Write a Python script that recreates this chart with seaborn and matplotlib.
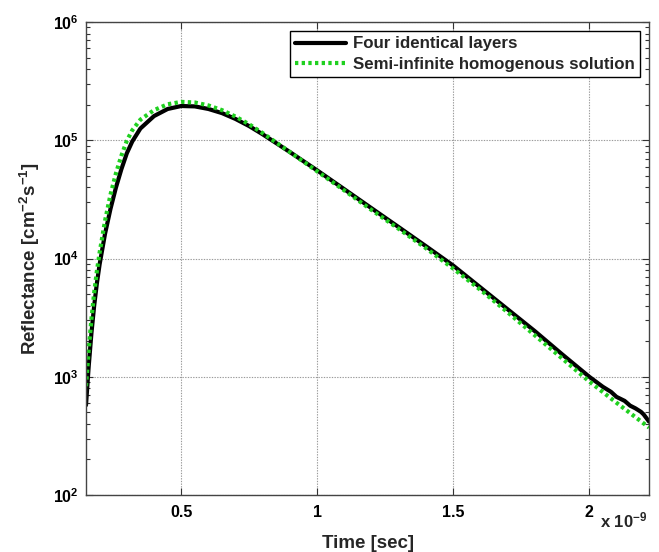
import numpy as np
import pandas as pd
import matplotlib
matplotlib.use("Agg")
import matplotlib.pyplot as plt
import seaborn as sns
from matplotlib.ticker import LogLocator, FixedLocator, NullLocator, NullFormatter

# time in units of 1e-9 s
time_layers = [0.15, 0.16, 0.17, 0.18, 0.19, 0.20, 0.22, 0.24, 0.26, 0.28, 0.30,
               0.32, 0.35, 0.40, 0.45, 0.50, 0.55, 0.60, 0.65, 0.70, 0.75, 0.80,
               0.85, 0.90, 1.00, 1.10, 1.20, 1.30, 1.40, 1.50, 1.60, 1.70, 1.80,
               1.90, 2.00, 2.05, 2.08, 2.10, 2.13, 2.15, 2.17, 2.19, 2.20, 2.22]
refl_layers = [575, 1230, 2340, 3980, 6170, 8910, 16200, 26300, 39800, 56900, 77600,
               97700, 125900, 160300, 184000, 195000, 193600, 184100, 169800, 151400,
               131800, 112200, 94400, 79400, 55600, 38500, 26600, 18400, 12700, 8710,
               5690, 3720, 2430, 1550, 1000, 822, 745, 676, 625, 570, 540, 505, 480, 417]

time_semi = [0.15, 0.16, 0.17, 0.18, 0.19, 0.20, 0.22, 0.24, 0.26, 0.28, 0.30,
             0.32, 0.35, 0.40, 0.45, 0.50, 0.55, 0.60, 0.65, 0.70, 0.75, 0.80,
             0.85, 0.90, 1.00, 1.10, 1.20, 1.30, 1.40, 1.50, 1.60, 1.70, 1.80,
             1.90, 2.00, 2.10, 2.20, 2.22]
refl_semi = [832, 1700, 3090, 5130, 7850, 11200, 20900, 34700, 52500, 74100, 98900,
             121600, 149600, 179900, 201800, 211300, 208900, 197200, 179900, 158500,
             136500, 114800, 95500, 79400, 54600, 37600, 25700, 17800, 12200, 8220,
             5430, 3510, 2240, 1430, 912, 603, 403, 372]

label_layers = "Four identical layers"
label_semi = "Semi-infinite homogenous solution"
x_ticks = [0.5, 1, 1.5, 2]
x_tick_labels = ["0.5", "1", "1.5", "2"]

df = pd.concat([
    pd.DataFrame({"t": time_layers, "R": refl_layers, "series": label_layers}),
    pd.DataFrame({"t": time_semi, "R": refl_semi, "series": label_semi}),
], ignore_index=True)

sns.set_theme(style="white")
plt.rcParams["font.family"] = ["Liberation Sans", "DejaVu Sans"]
plt.rcParams["font.weight"] = "bold"
plt.rcParams["mathtext.default"] = "regular"

fig = plt.figure(figsize=(6.59, 5.52), dpi=100)
ax = fig.add_axes([0.1305, 0.1033, 0.8545, 0.8567])

sns.lineplot(data=df[df.series == label_layers], x="t", y="R", ax=ax,
             color="black", linewidth=3.0, label=label_layers, estimator=None, sort=False)
sns.lineplot(data=df[df.series == label_semi], x="t", y="R", ax=ax,
             color="#1fd01f", linewidth=3.0, linestyle=(0, (0.8, 0.8)),
             label=label_semi, estimator=None, sort=False)

ax.set_yscale("log")
ax.set_xlim(0.15, 2.22)
ax.set_ylim(1e2, 1e6)

ax.xaxis.set_major_locator(FixedLocator(x_ticks))
ax.set_xticklabels(x_tick_labels)
ax.xaxis.set_minor_locator(NullLocator())
ax.yaxis.set_major_locator(LogLocator(base=10, numticks=10))
ax.yaxis.set_minor_locator(LogLocator(base=10, subs=np.arange(2, 10), numticks=20))
ax.yaxis.set_minor_formatter(NullFormatter())

ax.tick_params(axis="both", which="both", direction="in", top=True, right=True,
               bottom=True, left=True, labelsize=11.5, colors="#333333", labelcolor="black")
ax.tick_params(which="major", length=5, width=0.8)
ax.tick_params(which="minor", length=3, width=0.8)
for lbl in ax.get_xticklabels() + ax.get_yticklabels():
    lbl.set_fontweight("bold")
ax.tick_params(axis="x", pad=7)
ax.tick_params(axis="y", pad=5)

ax.grid(True, which="major", color="#9a9a9a", linestyle=(0, (1.2, 1.2)), linewidth=0.8)
ax.grid(False, which="minor")
for s in ax.spines.values():
    s.set_color("#444444")
    s.set_linewidth(1.0)

ax.set_xlabel("Time [sec]", fontsize=13.5, fontweight="bold", labelpad=11)
ax.set_ylabel("Reflectance [cm$^{-2}$s$^{-1}$]", fontsize=13.5, fontweight="bold", labelpad=8)

fig.text(0.983, 0.057, "x 10$^{-9}$", ha="right", va="center", fontsize=12, fontweight="bold")

leg = ax.legend(loc="upper right", fontsize=12.2, frameon=True, fancybox=False,
                edgecolor="black", framealpha=1, handlelength=3.0, borderpad=0.3,
                labelspacing=0.3, handletextpad=0.4, borderaxespad=0.55)
leg.get_frame().set_linewidth(1.0)
for t in leg.get_texts():
    t.set_fontweight("bold")

fig.savefig("out.png", dpi=100)
